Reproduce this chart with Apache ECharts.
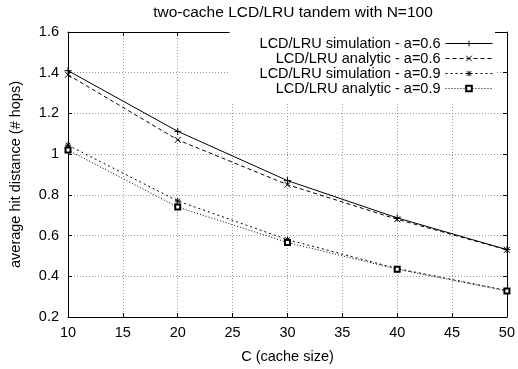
<!DOCTYPE html>
<html>
<head>
<meta charset="utf-8">
<script src="https://cdn.jsdelivr.net/npm/echarts@6/dist/echarts.min.js"></script>
<style>
    html, body { margin: 0; padding: 0; background: #fff; }
    #chart { width: 518px; height: 369px; }
</style>
</head>
<body>
<div id="chart"></div>
<script>
    // values
    const cacheSizes = [10, 20, 30, 40, 50];
    const simA06 = [1.41, 1.112, 0.87, 0.687, 0.531];
    const anaA06 = [1.39, 1.07, 0.85, 0.68, 0.53];
    const simA09 = [1.044, 0.77, 0.58, 0.438, 0.33];
    const anaA09 = [1.02, 0.74, 0.566, 0.435, 0.328];
    const seriesNames = [
        'LCD/LRU simulation - a=0.6',
        'LCD/LRU analytic - a=0.6',
        'LCD/LRU simulation - a=0.9',
        'LCD/LRU analytic - a=0.9'
    ];

    const font = 'Liberation Sans, Arial, sans-serif';
    const plus = 'path://M0,5L10,5M5,0L5,10';
    const cross = 'path://M0,0L10,10M10,0L0,10';
    const star = 'path://M0,5L10,5M5,0L5,10M1,1L9,9M9,1L1,9';

    function pairs(ys) {
        return cacheSizes.map((x, i) => [x, ys[i]]);
    }

    function makeSeries(name, ys, dash, symbol, size) {
        return {
            name: name,
            type: 'line',
            data: pairs(ys),
            symbol: symbol,
            symbolSize: size,
            showAllSymbol: true,
            lineStyle: { color: '#000', width: 1, type: dash },
            itemStyle: { color: '#000', borderColor: '#000', borderWidth: 1 },
            emphasis: { disabled: true },
            animation: false
        };
    }

    const chart = echarts.init(document.getElementById('chart'));
    chart.setOption({
        backgroundColor: '#fff',
        textStyle: { fontFamily: font },
        title: {
            text: 'two-cache LCD/LRU tandem with N=100',
            left: 288,
            textAlign: 'center',
            top: 0,
            textStyle: { fontSize: 15.5, fontWeight: 'normal', color: '#000', fontFamily: font }
        },
        legend: {
            orient: 'vertical',
            align: 'right',
            right: 23,
            top: 32,
            itemWidth: 47,
            itemHeight: 7,
            itemGap: 0,
            padding: [4, 2, 6, 30],
            backgroundColor: '#fff',
            lineStyle: { width: 1 },
            itemStyle: { borderWidth: 1 },
            textStyle: { fontSize: 14.5, color: '#000', fontFamily: font },
            data: seriesNames
        },
        grid: { left: 65, right: 8, top: 32, bottom: 52 },
        xAxis: [{
            type: 'value',
            min: 10, max: 50, interval: 5,
            name: 'C (cache size)',
            nameLocation: 'middle',
            nameGap: 32,
            nameTextStyle: { fontSize: 14.5, color: '#000' },
            axisLine: { lineStyle: { color: '#000', width: 1 } },
            axisTick: { inside: true, length: 4, lineStyle: { color: '#000' } },
            axisLabel: { fontSize: 14.5, color: '#000', margin: 8 },
            splitLine: { show: true, lineStyle: { color: '#999', type: [1, 2], width: 1 } }
        }, {
            type: 'value',
            position: 'top',
            min: 10, max: 50, interval: 5,
            axisLine: { show: true, lineStyle: { color: '#000', width: 1 } },
            axisTick: { inside: true, length: 4, lineStyle: { color: '#000' } },
            axisLabel: { show: false },
            splitLine: { show: false }
        }],
        yAxis: [{
            type: 'value',
            min: 0.2, max: 1.6, interval: 0.2,
            name: 'average hit distance (# hops)',
            nameLocation: 'middle',
            nameGap: 45,
            nameTextStyle: { fontSize: 14.5, color: '#000' },
            axisLine: { show: true, lineStyle: { color: '#000', width: 1 } },
            axisTick: { inside: true, length: 4, lineStyle: { color: '#000' } },
            axisLabel: { fontSize: 14.5, color: '#000', margin: 9, formatter: v => String(Math.round(v * 10) / 10) },
            splitLine: { show: true, lineStyle: { color: '#999', type: [1, 2], width: 1 } }
        }, {
            type: 'value',
            position: 'right',
            min: 0.2, max: 1.6, interval: 0.2,
            axisLine: { show: true, lineStyle: { color: '#000', width: 1 } },
            axisTick: { inside: true, length: 4, lineStyle: { color: '#000' } },
            axisLabel: { show: false },
            splitLine: { show: false }
        }],
        series: [
            makeSeries(seriesNames[0], simA06, 'solid', plus, 7),
            makeSeries(seriesNames[1], anaA06, [4, 3], cross, 6),
            makeSeries(seriesNames[2], simA09, [2, 3], star, 6),
            makeSeries(seriesNames[3], anaA09, [1, 2], 'emptyRect', 5)
        ]
    });
</script>
</body>
</html>
